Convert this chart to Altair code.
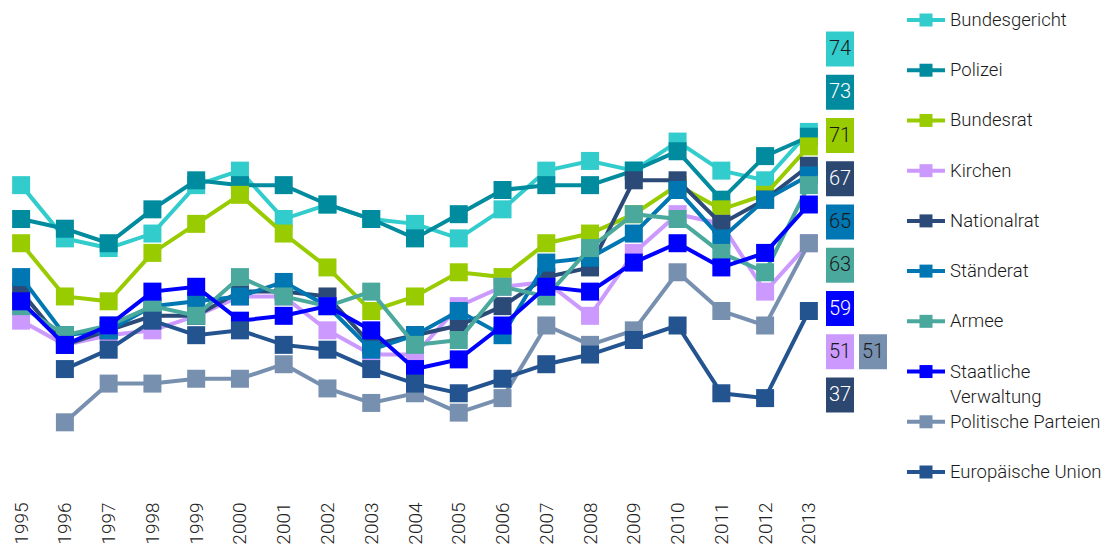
import altair as alt
import pandas as pd

FONT = "Roboto"

years = list(range(1995, 2014))

names = ["Bundesgericht", "Polizei", "Bundesrat", "Kirchen", "Nationalrat",
         "Ständerat", "Armee", "Staatliche Verwaltung", "Politische Parteien",
         "Europäische Union"]
colors = ["#33CCCC", "#008B9F", "#99CC00", "#CC99FF", "#2B4A78",
          "#0076B2", "#4AA99C", "#0000FF", "#7890B0", "#245490"]

bundesgericht = [63, 52, 50, 53, 63, 66, 56, 59, 56, 55, 52, 58, 66, 68, 66, 72, 66, 64, 74]
polizei       = [56, 54, 51, 58, 64, 63, 63, 59, 56, 52, 57, 62, 63, 63, 66, 70, 60, 69, 73]
bundesrat     = [51, 40, 39, 49, 55, 61, 53, 46, 37, 40, 45, 44, 51, 53, 57, 63, 58, 61, 71]
kirchen       = [35, 30, 32, 33, 36, 40, 40, 33, 28, 28, 38, 42, 43, 36, 49, 57, 55, 41, 51]
nationalrat   = [41, 30, 33, 36, 36, 41, 41, 40, 30, 32, 34, 38, 44, 46, 64, 64, 55, 60, 67]
staenderat    = [44, 32, 33, 38, 39, 40, 43, 38, 29, 32, 37, 32, 47, 48, 53, 62, 52, 60, 65]
armee         = [38, 32, 34, 38, 36, 44, 40, 38, 41, 30, 31, 42, 40, 50, 57, 56, 49, 45, 63]
verwaltung    = [39, 30, 34, 41, 42, 35, 36, 38, 33, 25, 27, 34, 42, 41, 47, 51, 46, 49, 59]
parteien      = [None, 14, 22, 22, 23, 23, 26, 21, 18, 20, 16, 19, 34, 30, 33, 45, 37, 34, 51]
eu            = [None, 25, 29, 35, 32, 33, 30, 29, 25, 22, 20, 23, 26, 28, 31, 34, 20, 19, 37]

series_values = [bundesgericht, polizei, bundesrat, kirchen, nationalrat,
                 staenderat, armee, verwaltung, parteien, eu]

# end-of-line value boxes
label_values = [74, 73, 71, 67, 65, 63, 59, 51, 51, 37]
label_slot = [0, 1, 2, 3, 4, 5, 6, 7, 7, 8]
label_col = [0, 0, 0, 0, 0, 0, 0, 0, 1, 0]
label_box = ["#33CCCC", "#008B9F", "#99CC00", "#2C4770", "#0076B2",
             "#4AA99C", "#0000FF", "#CC99FF", "#7890B0", "#2C4770"]
label_ink = ["#1a1a1a", "#ffffff", "#1a1a1a", "#ffffff", "#1a1a1a",
             "#1a1a1a", "#ffffff", "#1a1a1a", "#1a1a1a", "#ffffff"]

legend_text = ["Bundesgericht", "Polizei", "Bundesrat", "Kirchen", "Nationalrat",
               "Ständerat", "Armee", "Staatliche\nVerwaltung", "Politische Parteien",
               "Europäische Union"]

rows = []
for name, vals in zip(names, series_values):
    for yr, v in zip(years, vals):
        if v is not None:
            rows.append({"series": name, "year": yr, "value": v})
df = pd.DataFrame(rows)

xenc = alt.X("year:O", scale=alt.Scale(type="point", padding=0.3),
             axis=alt.Axis(title=None, labelAngle=-90, labelFontSize=19, labelFont=FONT,
                           labelFontWeight=300, labelColor="#222222", labelPadding=10,
                           ticks=False, domain=False, grid=False))
yenc = alt.Y("value:Q", scale=alt.Scale(domain=[-0.4, 99.6]), axis=None)
cenc = alt.Color("series:N", scale=alt.Scale(domain=names, range=colors), legend=None)

layers = []
for name in names:
    sub = alt.Chart(df[df["series"] == name])
    layers.append(sub.mark_line(strokeWidth=4).encode(x=xenc, y=yenc, color=cenc))
    layers.append(sub.mark_square(size=324, opacity=1).encode(x=xenc, y=yenc, color=cenc))
main = alt.layer(*layers).properties(width=814, height=484)

lab_df = pd.DataFrame({"slot": label_slot, "col": label_col, "value": label_values,
                       "box": label_box, "ink": label_ink})
lx = alt.X("col:Q", scale=alt.Scale(domain=[0, 1], range=[18, 51]), axis=None)
ly = alt.Y("slot:Q", scale=alt.Scale(domain=[0, 8], range=[41, 387]), axis=None)
boxes = alt.Chart(lab_df).mark_point(shape="M-0.8,-1H0.8V1H-0.8Z", size=1225,
                                     filled=True, opacity=1).encode(
    x=lx, y=ly, color=alt.Color("box:N", scale=None))
btext = alt.Chart(lab_df).mark_text(font=FONT, fontSize=20, fontWeight=300).encode(
    x=lx, y=ly, text="value:Q", color=alt.Color("ink:N", scale=None))
label_panel = alt.layer(boxes, btext).properties(width=80, height=484)

leg_df = pd.DataFrame({"series": names, "slot": list(range(len(names))), "label": legend_text})
gy = alt.Y("slot:Q", scale=alt.Scale(domain=[0, 9], range=[12, 464]), axis=None)
gcol = alt.Color("series:N", scale=alt.Scale(domain=names, range=colors), legend=None)
gline = alt.Chart(leg_df).mark_rule(strokeWidth=4).encode(
    x=alt.value(5), x2=alt.value(43), y=gy, color=gcol)
gsq = alt.Chart(leg_df).mark_square(size=169, opacity=1).encode(
    x=alt.value(24), y=gy, color=gcol)
gtext = alt.Chart(leg_df).mark_text(align="left", baseline="top", dy=-9, lineBreak="\n",
                                    lineHeight=25, font=FONT, fontSize=18.5, fontWeight=300,
                                    color="#1a1a1a").encode(
    x=alt.value(48), y=gy, text="label:N")
legend_panel = alt.layer(gline, gsq, gtext).properties(width=208, height=484)

chart = alt.hconcat(main, label_panel, legend_panel, spacing=0).properties(
    padding={"left": 0, "top": 0, "right": 0, "bottom": 0},
    background="white"
).configure_view(stroke=None)

chart.save("out.html", embed_options={"renderer": "svg", "actions": False})
